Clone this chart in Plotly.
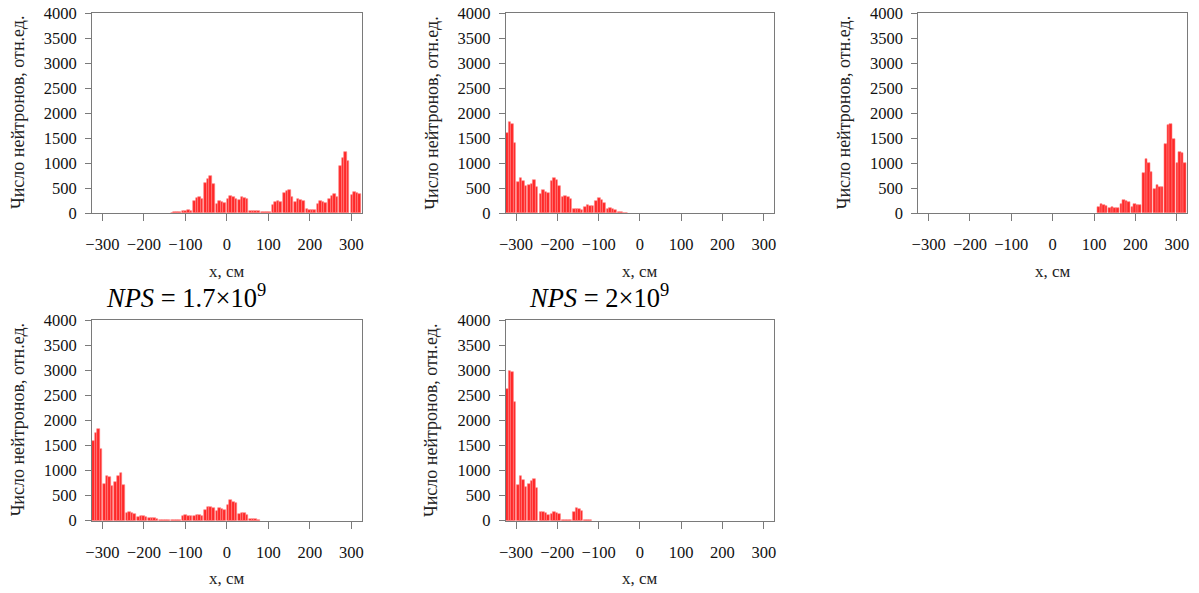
import plotly.graph_objects as go

# Neutron counts along x, one row per 27 cm cell, four sub-bins per cell
X_MIN, X_MAX = -325.0, 325.0
N_CELLS = 24
SUB_BINS = 4

counts_1 = [
    [0, 0, 0, 0], [0, 0, 0, 0], [0, 0, 0, 0], [0, 0, 0, 0],
    [0, 0, 0, 0], [0, 0, 0, 0], [0, 0, 0, 0], [10, 15, 20, 15],
    [40, 50, 55, 50], [240, 307, 327, 280], [600, 690, 747, 590], [180, 240, 220, 200],
    [287, 333, 320, 287], [253, 320, 300, 280], [47, 50, 45, 40], [27, 30, 27, 25],
    [167, 227, 233, 230], [407, 440, 453, 313], [220, 273, 260, 240], [73, 70, 60, 53],
    [187, 240, 230, 193], [280, 350, 373, 313], [947, 1107, 1213, 1047], [353, 427, 400, 380],
]

counts_2 = [
    [1607, 1827, 1780, 1407], [613, 693, 650, 547], [567, 580, 667, 513], [387, 460, 427, 393],
    [633, 707, 660, 547], [313, 347, 327, 273], [73, 80, 75, 60], [120, 160, 150, 133],
    [240, 300, 260, 200], [80, 93, 85, 67], [20, 15, 10, 5], [0, 0, 0, 0],
    [0, 0, 0, 0], [0, 0, 0, 0], [0, 0, 0, 0], [0, 0, 0, 0],
    [0, 0, 0, 0], [0, 0, 0, 0], [0, 0, 0, 0], [0, 0, 0, 0],
    [0, 0, 0, 0], [0, 0, 0, 0], [0, 0, 0, 0], [0, 0, 0, 0],
]

counts_3 = [
    [0, 0, 0, 0], [0, 0, 0, 0], [0, 0, 0, 0], [0, 0, 0, 0],
    [0, 0, 0, 0], [0, 0, 0, 0], [0, 0, 0, 0], [0, 0, 0, 0],
    [0, 0, 0, 0], [0, 0, 0, 0], [0, 0, 0, 0], [0, 0, 0, 0],
    [0, 0, 0, 0], [0, 0, 0, 0], [0, 0, 0, 0], [0, 0, 0, 0],
    [127, 173, 153, 133], [107, 127, 110, 93], [187, 253, 240, 220], [127, 187, 170, 160],
    [800, 1080, 993, 813], [473, 560, 527, 527], [1380, 1753, 1780, 1487], [993, 1220, 1200, 993],
]

counts_4 = [
    [1593, 1747, 1827, 1433], [733, 900, 870, 693], [780, 900, 947, 713], [160, 167, 150, 127],
    [80, 87, 85, 80], [53, 60, 45, 27], [15, 20, 15, 15], [10, 5, 10, 5],
    [87, 120, 100, 93], [87, 113, 120, 93], [213, 273, 267, 260], [200, 247, 233, 213],
    [320, 407, 380, 347], [140, 153, 147, 113], [33, 30, 25, 20], [0, 0, 0, 0],
    [0, 0, 0, 0], [0, 0, 0, 0], [0, 0, 0, 0], [0, 0, 0, 0],
    [0, 0, 0, 0], [0, 0, 0, 0], [0, 0, 0, 0], [0, 0, 0, 0],
]

counts_5 = [
    [2620, 2980, 2960, 2360], [720, 900, 820, 673], [740, 800, 833, 660], [173, 173, 150, 113],
    [133, 167, 160, 133], [15, 20, 20, 15], [173, 260, 230, 200], [10, 8, 5, 0],
    [0, 0, 0, 0], [0, 0, 0, 0], [0, 0, 0, 0], [0, 0, 0, 0],
    [0, 0, 0, 0], [0, 0, 0, 0], [0, 0, 0, 0], [0, 0, 0, 0],
    [0, 0, 0, 0], [0, 0, 0, 0], [0, 0, 0, 0], [0, 0, 0, 0],
    [0, 0, 0, 0], [0, 0, 0, 0], [0, 0, 0, 0], [0, 0, 0, 0],
]

panel_titles = ["", "", "", "<i>NPS</i> = 1.7×10<sup>9</sup>", "<i>NPS</i> = 2×10<sup>9</sup>"]
x_ticks = [-300, -200, -100, 0, 100, 200, 300]
y_ticks = [0, 500, 1000, 1500, 2000, 2500, 3000, 3500, 4000]
y_title = "Число нейтронов, отн.ед."
x_title = "x, см"

W, H = 1199, 593
# plot-area boxes in pixels: left, right, top, bottom
boxes = [
    (92.0, 362.0, 13.0, 213.0),
    (505.7, 774.3, 13.0, 213.0),
    (918.3, 1187.3, 13.0, 213.0),
    (92.0, 362.0, 320.0, 520.7),
    (505.7, 774.3, 320.0, 520.7),
]
title_offset = [0, 0, 0, 12, 21]

FONT = "Liberation Serif, Times New Roman, serif"
FRAME = "#7a7a7a"
BAR = "rgb(255,40,40)"
EDGE = "rgb(255,130,130)"

cell_w = (X_MAX - X_MIN) / N_CELLS
cell_gap = 2.6
sub_w = (cell_w - cell_gap) / SUB_BINS

fig = go.Figure()
annotations = []
all_counts = [counts_1, counts_2, counts_3, counts_4, counts_5]

for i, (counts, box) in enumerate(zip(all_counts, boxes)):
    xs, ys = [], []
    for c, cell in enumerate(counts):
        left = X_MIN + c * cell_w
        for k, v in enumerate(cell):
            if v > 0:
                xs.append(left + (k + 0.5) * sub_w)
                ys.append(v)
    n = "" if i == 0 else str(i + 1)
    fig.add_trace(go.Bar(
        x=xs, y=ys, width=sub_w,
        marker=dict(color=BAR, line=dict(color=EDGE, width=0.6)),
        xaxis="x" + n, yaxis="y" + n, showlegend=False, hoverinfo="x+y",
    ))
    l, r, t, b = box
    fig.update_layout(**{
        "xaxis" + n: dict(
            domain=[l / W, r / W], anchor="y" + n, range=[X_MIN, X_MAX + 0.5],
            tickvals=x_ticks, ticks="outside", ticklen=7, tickcolor=FRAME, tickwidth=1,
            showline=True, linecolor=FRAME, linewidth=1, mirror=True,
            showgrid=False, zeroline=False, automargin=False, ticklabelstandoff=9,
            tickfont=dict(family=FONT, size=16.5, color="#111"),
        ),
        "yaxis" + n: dict(
            domain=[1 - b / H, 1 - t / H], anchor="x" + n, range=[0, 4000],
            tickvals=y_ticks, ticks="outside", ticklen=6, tickcolor=FRAME, tickwidth=1,
            showline=True, linecolor=FRAME, linewidth=1, mirror=True,
            showgrid=False, zeroline=False, automargin=False, ticklabelstandoff=5,
            tickfont=dict(family=FONT, size=16.5, color="#111"),
        ),
    })
    annotations.append(dict(
        x=(l - 74) / W, y=1 - (t + b) / 2 / H, xref="paper", yref="paper",
        text=y_title, textangle=-90, showarrow=False,
        font=dict(family=FONT, size=18, color="#222"),
        xanchor="center", yanchor="middle",
    ))
    annotations.append(dict(
        x=(l + r) / 2 / W, y=1 - (b + 58) / H, xref="paper", yref="paper",
        text=x_title, showarrow=False,
        font=dict(family=FONT, size=17, color="#222"),
        xanchor="center", yanchor="middle",
    ))
    if panel_titles[i]:
        annotations.append(dict(
            x=(l + title_offset[i]) / W, y=1 - (t - 24) / H, xref="paper", yref="paper",
            text=panel_titles[i], showarrow=False,
            font=dict(family=FONT, size=26.5, color="#000"),
            xanchor="left", yanchor="middle",
        ))

fig.update_layout(
    template="none",
    width=W, height=H, margin=dict(l=0, r=0, t=0, b=0, autoexpand=False),
    paper_bgcolor="white", plot_bgcolor="white",
    bargap=0, annotations=annotations,
)

fig.write_html("out.html")
